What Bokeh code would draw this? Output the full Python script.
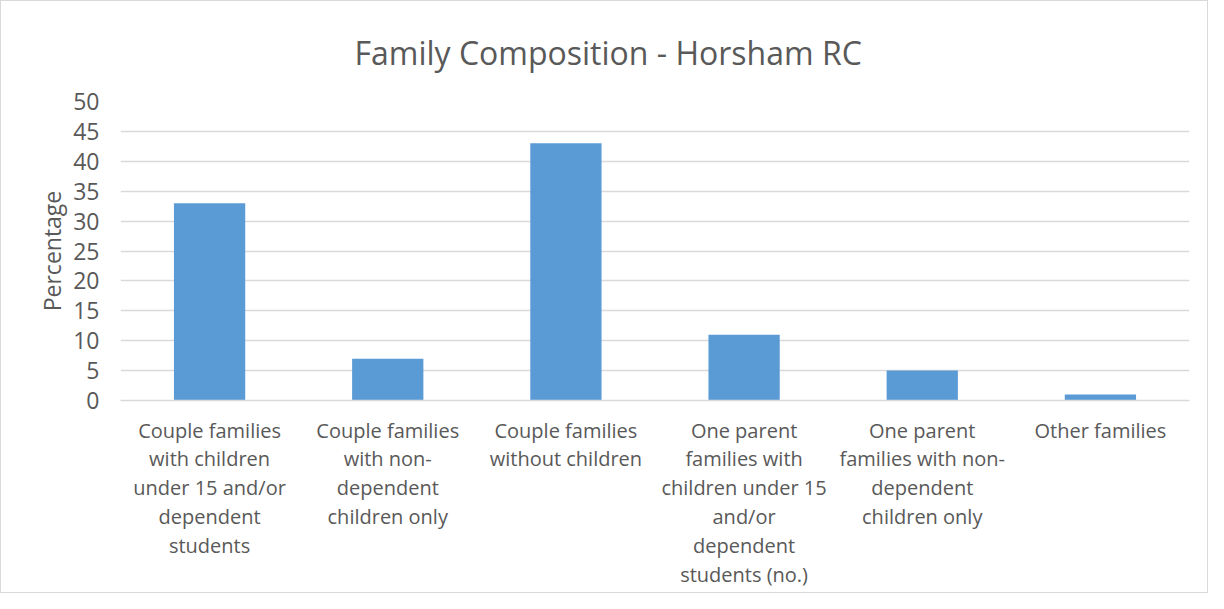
from bokeh.plotting import figure
from bokeh.models import ColumnDataSource, FactorRange
from bokeh.embed import file_html
from bokeh.resources import INLINE

categories = [
    "Couple families\nwith children\nunder 15 and/or\ndependent\nstudents",
    "Couple families\nwith non-\ndependent\nchildren only",
    "Couple families\nwithout children",
    "One parent\nfamilies with\nchildren under 15\nand/or\ndependent\nstudents (no.)",
    "One parent\nfamilies with non-\ndependent\nchildren only",
    "Other families",
]
values = [33, 7, 43, 11, 5, 1]
y_ticks = [0, 5, 10, 15, 20, 25, 30, 35, 40, 45, 50]

FONT = "Open Sans"
GREY = "#595959"

src = ColumnDataSource(dict(cat=categories, val=values))

p = figure(
    x_range=FactorRange(factors=categories, range_padding=0),
    y_range=(0, 50),
    width=1208, height=593,
    output_backend="svg", toolbar_location=None,
    min_border_left=119, min_border_right=20,
    min_border_top=100, min_border_bottom=194,
    title="Family Composition - Horsham RC",
)
p.styles = {"border": "1px solid #d9d9d9"}

p.vbar(x="cat", top="val", width=0.4, source=src, color="#5B9BD5", line_color=None)

p.title.align = "left"
p.title.text_font = FONT
p.title.text_font_size = "32px"
p.title.text_font_style = "normal"
p.title.text_color = GREY
p.title.standoff = 55
p.title.offset = 234

p.outline_line_color = None
p.xgrid.grid_line_color = None
p.ygrid.grid_line_color = "#d9d9d9"
p.ygrid.grid_line_width = 1.5

p.yaxis.ticker = y_ticks
p.yaxis.axis_line_color = None
p.yaxis.major_tick_line_color = None
p.yaxis.minor_tick_line_color = None
p.yaxis.major_label_text_font = FONT
p.yaxis.major_label_text_font_size = "23px"
p.yaxis.major_label_text_color = GREY
p.yaxis.major_label_standoff = 15
p.yaxis.axis_label = "Percentage"
p.yaxis.axis_label_text_font = FONT
p.yaxis.axis_label_text_font_size = "23px"
p.yaxis.axis_label_text_font_style = "normal"
p.yaxis.axis_label_text_color = GREY
p.yaxis.axis_label_standoff = 2

p.xaxis.axis_line_color = "#d9d9d9"
p.xaxis.axis_line_width = 1.5
p.xaxis.major_tick_line_color = None
p.xaxis.minor_tick_line_color = None
p.xaxis.major_label_text_font = FONT
p.xaxis.major_label_text_font_size = "20px"
p.xaxis.major_label_text_color = GREY
p.xaxis.major_label_text_line_height = 1.07
p.xaxis.major_label_standoff = 10
p.xaxis.major_label_orientation = "horizontal"

open("out.html", "w").write(file_html(p, INLINE))
